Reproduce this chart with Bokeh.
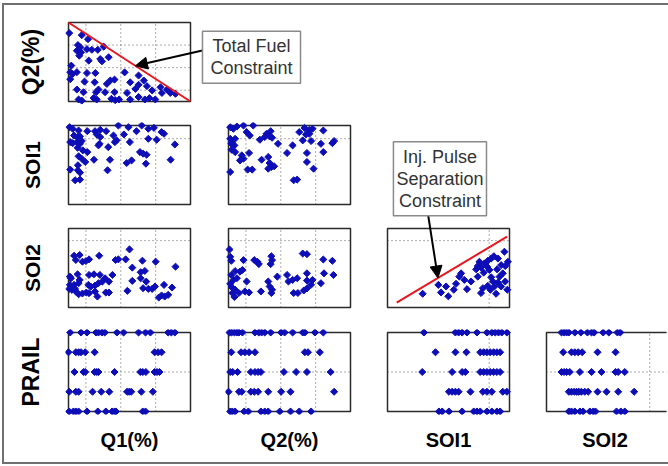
from bokeh.plotting import figure
from bokeh.layouts import column, row
from bokeh.models import Range1d, Label, Arrow, NormalHead, Spacer, FixedTicker
from bokeh.embed import file_html
from bokeh.resources import INLINE
import math

# ---------------- data ----------------
# axis: (low, high, grid ticks)
AXES = {
    "Q1(%)": (5, 40, [10, 20, 30]),
    "Q2(%)": (5, 40, [10, 20, 30]),
    "SOI1": (-50, 10, [0]),
    "SOI2": (-55, 10, [0]),
    "PRAIL": (500, 1500, [1000]),
}
PRAIL_LEVELS = [1500, 1250, 1000, 750, 500]
TOTAL_FUEL = 45.0          # Q1 + Q2 <= TOTAL_FUEL
MIN_SEPARATION = 5.5       # SOI2 <= SOI1 - MIN_SEPARATION
sep_line_soi1 = [-45.5, 8.8]

q1_q2 = [(5.2, 35.3), (8.8, 34.4), (10.6, 32.6), (7.7, 30.0), (8.4, 29.0), (7.4, 27.5), (8.6, 26.8),
         (8.1, 25.3), (10.3, 28.2), (11.7, 27.9), (13.4, 27.9), (15.1, 29.3), (14.1, 23.8), (14.6, 22.8),
         (16.5, 24.6), (5.5, 18.0), (6.2, 17.2), (7.4, 18.0), (10.3, 17.6), (12.7, 17.6), (5.8, 20.9),
         (9.6, 13.8), (12.5, 13.5), (16.0, 12.8), (17.0, 14.3), (18.2, 14.7), (21.1, 17.9), (22.7, 13.5),
         (25.1, 16.5), (25.1, 12.4), (26.6, 14.3), (7.4, 10.3), (9.3, 9.1), (12.9, 9.1), (13.6, 10.3),
         (15.5, 9.1), (18.2, 9.1), (21.8, 8.8), (24.2, 10.6), (27.5, 11.8), (29.0, 9.9), (31.4, 11.3),
         (33.3, 10.3), (34.2, 8.8), (7.9, 5.9), (8.8, 5.4), (12.2, 6.5), (13.1, 5.9), (17.3, 6.2),
         (18.4, 5.6), (22.7, 5.9), (25.1, 7.0), (26.9, 5.9), (28.2, 6.5), (29.9, 5.9), (31.8, 8.8),
         (35.7, 8.4), (5.5, 14.9), (19.5, 5.9), (10.8, 23.1)]

q1_soi1 = [(5.3, 8.7), (6.2, 7.5), (7.9, 6.2), (10.4, 5.7), (12.6, 5.7), (14.1, 6.7), (15.8, 5.7),
           (19.3, 10.0), (22.2, 8.7), (24.5, 5.7), (26.0, 10.0), (27.9, 7.5), (29.5, 8.2), (31.7, 5.0),
           (32.4, 3.7), (6.6, 2.4), (7.6, 1.2), (8.3, 1.7), (13.1, 3.2), (14.1, 1.2), (17.9, 2.4),
           (20.9, 3.2), (27.9, -0.1), (30.3, -0.8), (18.8, -1.3), (18.3, -2.6), (22.6, -2.6), (13.9, -3.9),
           (5.5, -2.6), (6.2, -3.4), (7.4, -2.6), (8.3, -3.9), (8.8, -1.8), (13.6, -5.1), (16.4, -6.4),
           (35.5, -4.4), (7.6, -6.9), (9.1, -8.9), (10.4, -10.2), (7.9, -13.4), (8.8, -15.2), (12.3, -16.0),
           (16.9, -16.0), (21.7, -18.5), (23.1, -16.5), (25.5, -10.2), (26.4, -11.4), (27.4, -12.2),
           (27.2, -19.0), (34.3, -16.0), (9.8, -17.7), (7.7, -20.2), (16.2, -24.0), (5.5, -23.5),
           (7.7, -24.0), (8.3, -25.8), (6.9, -31.6), (8.3, -31.1)]

q2_soi1 = [(5.5, 8.7), (6.4, 7.5), (7.4, 9.2), (9.3, 10.0), (12.1, 10.0), (10.2, 5.0), (11.1, 2.4),
           (15.9, 3.7), (17.1, 5.7), (25.3, 5.0), (26.8, 8.2), (28.2, 6.7), (29.1, 7.5), (32.2, 6.2),
           (27.2, 3.2), (28.2, 3.7), (5.5, -0.1), (5.9, -2.6), (6.9, -0.1), (5.8, -3.9), (6.7, -5.1),
           (14.0, -0.8), (15.4, 1.2), (16.8, 1.7), (17.5, 0.7), (19.2, -3.9), (23.4, -5.1), (26.3, -1.3),
           (28.7, -1.8), (31.5, -3.9), (34.8, -3.4), (35.3, -1.8), (5.9, -8.4), (6.9, -10.2), (8.8, -12.7),
           (9.3, -15.2), (8.3, -16.5), (10.9, -10.9), (14.5, -16.0), (16.4, -13.9), (16.8, -18.5),
           (17.3, -21.5), (16.4, -22.8), (18.1, -21.0), (21.8, -10.9), (27.5, -10.9), (27.5, -17.7),
           (32.2, -10.2), (5.5, -25.3), (10.5, -23.5), (11.8, -23.5), (29.4, -22.8), (23.7, -31.6),
           (24.7, -31.1)]

q1_soi2 = [(6.6, -12.4), (8.2, -11.8), (7.1, -15.9), (9.0, -17.3), (10.0, -16.8), (10.9, -15.4),
           (13.8, -12.4), (18.5, -15.9), (19.3, -15.4), (21.4, -15.4), (22.5, -7.2), (26.2, -16.5),
           (30.0, -17.3), (35.7, -21.4), (23.3, -22.2), (26.9, -24.9), (25.7, -26.0), (5.4, -29.6),
           (5.7, -31.0), (7.6, -27.7), (8.2, -32.3), (7.9, -35.0), (6.6, -36.4), (5.4, -36.4), (5.2, -39.7),
           (6.0, -40.5), (6.9, -39.7), (7.3, -42.4), (7.9, -44.1), (9.0, -43.5), (10.1, -42.7), (10.9, -28.2),
           (12.3, -27.7), (14.0, -28.2), (10.7, -36.4), (11.4, -37.8), (12.6, -37.0), (13.6, -35.0),
           (14.7, -33.7), (15.5, -31.0), (16.6, -33.7), (17.6, -28.2), (10.9, -43.2), (12.6, -41.9),
           (13.3, -46.0), (15.7, -42.7), (16.6, -42.7), (21.9, -41.3), (23.3, -33.1), (25.7, -31.0),
           (27.3, -33.7), (26.4, -39.1), (27.9, -39.7), (29.0, -39.7), (29.8, -37.8), (32.4, -36.4),
           (34.7, -38.6), (31.7, -45.1), (30.9, -46.8), (32.6, -46.0), (33.6, -44.6)]

q2_soi2 = [(5.3, -7.3), (5.5, -13.3), (5.8, -16.6), (9.3, -16.0), (12.4, -16.0), (13.3, -17.4),
           (13.7, -19.3), (17.3, -12.8), (17.5, -16.0), (17.1, -19.3), (26.3, -10.6), (27.5, -11.1),
           (32.2, -15.5), (34.8, -16.6), (6.9, -25.0), (8.3, -25.5), (9.0, -24.1), (5.8, -28.2),
           (6.4, -32.3), (7.4, -30.9), (5.5, -35.5), (5.9, -38.2), (6.9, -40.4), (6.1, -43.1), (6.7, -46.4),
           (8.0, -43.1), (9.7, -41.8), (10.9, -42.6), (10.2, -33.6), (14.3, -41.8), (16.4, -33.6),
           (16.8, -37.7), (17.5, -40.4), (17.3, -43.1), (19.0, -29.6), (21.8, -28.2), (22.2, -33.6),
           (23.4, -32.3), (24.7, -30.9), (23.7, -43.1), (24.9, -43.1), (26.6, -41.0), (27.5, -39.3),
           (28.7, -36.3), (27.5, -32.8), (27.5, -26.9), (29.1, -32.3), (31.5, -35.0), (32.4, -26.9),
           (35.1, -28.2)]

soi1_soi2 = [(-32.7, -43.7), (-25.0, -36.4), (-23.7, -42.6), (-20.1, -45.8), (-16.3, -35.5),
             (-14.7, -29.6), (-13.8, -26.9), (-12.2, -32.3), (-10.9, -39.9), (-6.4, -23.6), (-5.6, -29.6),
             (-4.0, -43.1), (-3.1, -39.1), (-2.3, -18.7), (-1.0, -21.4), (0.1, -24.1), (1.0, -30.1),
             (1.8, -33.6), (-0.7, -37.2), (0.6, -40.4), (2.6, -37.7), (3.4, -43.7), (4.3, -34.4),
             (5.1, -29.6), (5.9, -37.7), (6.7, -26.9), (7.9, -33.6), (7.5, -9.1), (4.3, -14.7),
             (2.3, -12.8), (1.0, -14.7), (-0.7, -16.6), (-4.8, -17.4), (-5.6, -20.9), (-4.0, -22.0),
             (-2.7, -26.3), (3.9, -23.6), (5.9, -20.1), (7.9, -20.9), (9.2, -17.4), (8.9, -40.4),
             (-17.4, -40.4), (-21.2, -37.7), (-8.9, -33.6)]

# x values at each PRAIL level (1500, 1250, 1000, 750, 500)
q1_by_prail = [
    [5.5, 8.6, 10.3, 12.9, 13.6, 14.6, 15.4, 18.9, 20.8, 25.1, 27.1, 28.5, 33.6, 34.5, 35.5],
    [5.0, 7.1, 7.9, 8.6, 9.8, 12.5, 29.7, 30.7, 31.7],
    [6.7, 9.3, 9.8, 12.5, 13.1, 13.6, 18.2, 25.6, 26.3, 27.2, 29.7, 30.4, 31.1],
    [5.2, 7.1, 7.9, 11.9, 14.4, 16.7, 21.8, 22.4, 23.0, 25.9, 29.2],
    [5.2, 6.4, 7.1, 7.9, 10.3, 13.4, 15.7, 17.5, 18.2, 18.6, 26.3, 27.1],
]
q2_by_prail = [
    [5.3, 5.9, 6.7, 7.4, 8.0, 9.0, 12.6, 13.7, 14.5, 15.4, 17.1, 20.1, 21.1, 23.4, 26.3, 26.9, 29.8, 32.2],
    [5.8, 8.6, 9.7, 10.9, 12.6, 26.9, 27.8, 31.2],
    [5.5, 6.2, 7.6, 11.4, 12.6, 13.5, 14.3, 20.9, 24.4, 27.5, 34.3],
    [5.0, 8.0, 8.8, 11.4, 12.4, 13.5, 16.4, 20.1, 22.8, 35.3],
    [5.5, 6.1, 6.9, 9.5, 10.7, 14.3, 15.4, 16.4, 19.7, 22.8, 25.3, 28.7],
]
soi1_by_prail = [
    [-32.1, -16.6, -15.0, -13.3, -10.9, -6.0, -1.1, 1.3, 3.0, 4.6, 6.2, 8.7],
    [-26.4, -16.6, -11.2, -4.4, -2.7, -1.1, 0.5, 2.2, 3.8, 5.4],
    [-32.9, -18.2, -13.3, -11.7, -4.4, -2.7, -1.1, 0.5, 2.2, 3.8, 5.4],
    [-19.8, -18.2, -16.6, -15.0, -9.2, -3.1, -1.1, 1.3, 6.7, 8.7],
    [-24.7, -23.1, -19.8, -13.3, -7.6, -6.0, -4.4, -1.1, 1.3, 3.8, 5.4],
]
soi2_by_prail = [
    [-47.0, -45.6, -44.3, -43.1, -39.9, -36.7, -33.2, -31.0, -29.6, -24.8, -21.8, -17.2, -15.7],
    [-46.1, -41.7, -39.9, -38.1, -36.0, -27.8, -18.2],
    [-47.0, -45.6, -44.3, -42.6, -37.2, -31.0, -25.7, -18.2, -16.8, -13.3],
    [-43.1, -41.7, -40.3, -39.0, -37.8, -36.4, -34.6, -32.8, -27.8, -23.0, -16.8, -8.3],
    [-43.1, -41.7, -39.9, -37.2, -35.5, -31.9, -30.1, -28.9, -17.7, -15.4, -13.3],
]

# ---------------- styling ----------------
BLUE = "#0e0eb8"
RED = "#e8161e"
FONT = "Liberation Sans"
BOX_W, BOX_H, PAD = 122, 79, 3


def pairs(pts):
    return [p[0] for p in pts], [p[1] for p in pts]


def by_level(lists):
    xs, ys = [], []
    for lvl, vals in zip(PRAIL_LEVELS, lists):
        xs += vals
        ys += [lvl] * len(vals)
    return xs, ys


def style_label_axis(ax, label, size, standoff):
    ax.ticker = FixedTicker(ticks=[])
    ax.axis_line_color = None
    ax.major_tick_line_color = None
    ax.minor_tick_line_color = None
    ax.major_tick_out = 0
    ax.major_tick_in = 0
    ax.major_label_standoff = 0
    ax.axis_label = label
    ax.axis_label_standoff = standoff
    ax.axis_label_text_font = FONT
    ax.axis_label_text_font_style = "bold"
    ax.axis_label_text_font_size = size
    ax.axis_label_text_color = "black"


def panel(xname, yname, xs, ys, left, right, top, bottom,
          ylabel_size=None, xlabel_size=None,
          pad_l=PAD, pad_r=PAD, pad_t=PAD, pad_b=PAD):
    x0, x1, xt = AXES[xname]
    y0, y1, yt = AXES[yname]
    dx = (x1 - x0) / BOX_W
    dy = (y1 - y0) / BOX_H
    p = figure(frame_width=BOX_W + pad_l + pad_r, frame_height=BOX_H + pad_t + pad_b,
               x_range=Range1d(x0 - dx * pad_l, x1 + dx * pad_r),
               y_range=Range1d(y0 - dy * pad_b, y1 + dy * pad_t),
               min_border_left=left - pad_l, min_border_right=right - pad_r,
               min_border_top=top - pad_t, min_border_bottom=bottom - pad_b,
               x_axis_location="below" if xlabel_size else None,
               y_axis_location="left" if ylabel_size else None,
               toolbar_location=None, output_backend="svg",
               background_fill_color="white", border_fill_color="white",
               outline_line_color=None)
    p.grid.visible = False
    if xlabel_size:
        style_label_axis(p.xaxis, xname, xlabel_size, 14)
    if ylabel_size:
        style_label_axis(p.yaxis, yname, ylabel_size, 22)
    # dotted grid lines inside the panel box, at the axis ticks
    grid = dict(line_color="#5a5a5a", line_dash="1 3", line_width=1)
    p.segment(x0=xt, y0=[y0] * len(xt), x1=xt, y1=[y1] * len(xt), **grid)
    p.segment(x0=[x0] * len(yt), y0=yt, x1=[x1 + 2 * dx] * len(yt), y1=yt, **grid)
    p.quad(left=[x0], right=[x1], bottom=[y0], top=[y1], fill_color=None,
           line_color="#2a2a2a", line_width=1.5)
    p.scatter(xs, ys, marker="square", angle=math.pi / 4, size=5, color=BLUE)
    return p


def callout(p, text, x, y, padding):
    p.add_layout(Label(x=x, y=y, text=text, text_align="center", text_baseline="middle",
                       text_font=FONT, text_font_size="18px", text_line_height=1.1,
                       text_color="#333333", border_line_color="#8a8a8a", border_line_width=1.5,
                       background_fill_color="white", padding=padding))


def pointer(p, xs, ys, xe, ye):
    p.add_layout(Arrow(end=NormalHead(size=12, fill_color="black", line_color="black"),
                       x_start=xs, y_start=ys, x_end=xe, y_end=ye,
                       line_color="black", line_width=2))


# row 1
x, y = pairs(q1_q2)
p11 = panel("Q1(%)", "Q2(%)", x, y, 64, 134, 17, 12, ylabel_size="23px", pad_r=115)
qlo, qhi, _ = AXES["Q1(%)"]
p11.line([qlo, qhi], [TOTAL_FUEL - qlo, TOTAL_FUEL - qhi], line_color=RED, line_width=2)
pointer(p11, 43.4, 27.6, 24.2, 20.8)
callout(p11, "Total Fuel\nConstraint", 57.5, 24.6, (8, 5))

# row 2
x, y = pairs(q1_soi1)
p21 = panel("Q1(%)", "SOI1", x, y, 64, 19, 12, 12, ylabel_size="21px")
x, y = pairs(q2_soi1)
p22 = panel("Q2(%)", "SOI1", x, y, 19, 19, 12, 12)

# row 3
x, y = pairs(q1_soi2)
p31 = panel("Q1(%)", "SOI2", x, y, 64, 19, 12, 13, ylabel_size="21px")
x, y = pairs(q2_soi2)
p32 = panel("Q2(%)", "SOI2", x, y, 19, 19, 12, 13)
x, y = pairs(soi1_soi2)
p33 = panel("SOI1", "SOI2", x, y, 18, 19, 115, 13, pad_t=90)
p33.line(sep_line_soi1, [s - MIN_SEPARATION for s in sep_line_soi1], line_color=RED, line_width=2)
pointer(p33, -30.2, 23.0, -25.2, -30.7)
callout(p33, "Inj. Pulse\nSeparation\nConstraint", -24.2, 51.0, (3, 5))

# row 4
x, y = by_level(q1_by_prail)
p41 = panel("Q1(%)", "PRAIL", x, y, 64, 19, 12, 51, ylabel_size="23px", xlabel_size="20px")
x, y = by_level(q2_by_prail)
p42 = panel("Q2(%)", "PRAIL", x, y, 19, 19, 12, 51, xlabel_size="20px")
x, y = by_level(soi1_by_prail)
p43 = panel("SOI1", "PRAIL", x, y, 18, 19, 12, 51, xlabel_size="20px")
x, y = by_level(soi2_by_prail)
p44 = panel("SOI2", "PRAIL", x, y, 18, 0, 12, 51, xlabel_size="20px", pad_r=-2)

body = row(column(p21, p31, p41), column(p22, p32, p42), column(p33, p43),
           column(Spacer(width=140, height=207), p44))
root = column(p11, body, styles={"border-left": "2px solid #707070", "border-top": "2px solid #707070",
                                 "border-bottom": "2px solid #707070", "margin-left": "2px",
                                 "margin-top": "3px", "background-color": "white"})

open("out.html", "w").write(file_html(root, INLINE))
